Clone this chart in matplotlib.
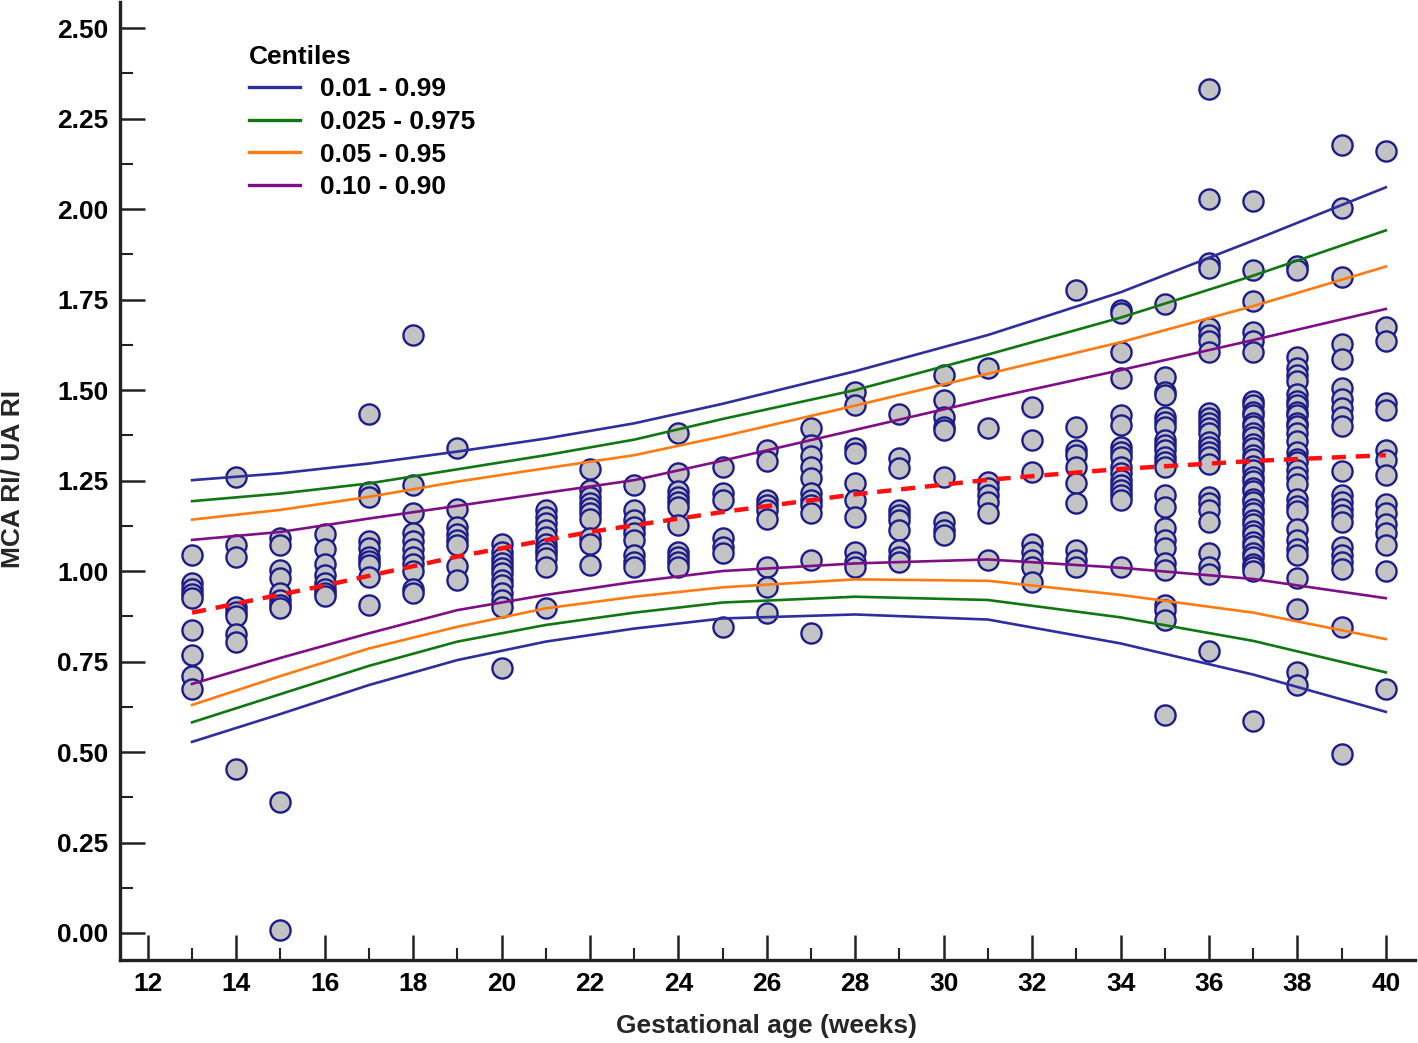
import matplotlib
matplotlib.use("Agg")
import matplotlib.pyplot as plt
from matplotlib.ticker import MultipleLocator, FormatStrFormatter

plt.rcParams['font.family'] = ['Liberation Sans', 'DejaVu Sans']

# ---------------- data ----------------
weeks = list(range(13, 41))

w13 = [1.044, 0.966, 0.950, 0.936, 0.925, 0.837, 0.768, 0.710, 0.674]
w14 = [1.260, 1.072, 1.040, 0.901, 0.888, 0.877, 0.826, 0.804, 0.453]
w15 = [1.090, 1.072, 1.003, 0.980, 0.938, 0.920, 0.906, 0.897, 0.361, 0.009]
w16 = [1.102, 1.060, 1.020, 0.989, 0.967, 0.951, 0.938, 0.930]
w17 = [1.433, 1.218, 1.204, 1.082, 1.063, 1.038, 1.028, 1.018, 0.984, 0.905]
w18 = [1.653, 1.238, 1.159, 1.105, 1.082, 1.060, 1.038, 1.020, 0.999, 0.949, 0.940]
w19 = [1.339, 1.171, 1.122, 1.102, 1.087, 1.073, 1.014, 0.974]
w20 = [1.076, 1.053, 1.035, 1.021, 1.007, 0.994, 0.975, 0.961, 0.938, 0.920, 0.901, 0.731]
w21 = [1.169, 1.150, 1.132, 1.113, 1.095, 1.076, 1.062, 1.049, 1.035, 1.012, 0.897]
w22 = [1.281, 1.224, 1.205, 1.187, 1.173, 1.159, 1.145, 1.090, 1.076, 1.017]
w23 = [1.238, 1.169, 1.141, 1.122, 1.104, 1.086, 1.044, 1.026, 1.012]
w24 = [1.380, 1.270, 1.220, 1.205, 1.191, 1.178, 1.127, 1.053, 1.040, 1.026, 1.012]
w25 = [1.286, 1.215, 1.196, 1.090, 1.067, 1.049, 0.846]
w26 = [1.334, 1.305, 1.196, 1.182, 1.169, 1.145, 1.012, 0.956, 0.883]
w27 = [1.394, 1.348, 1.317, 1.288, 1.256, 1.215, 1.196, 1.182, 1.159, 1.030, 0.830]
w28 = [1.495, 1.459, 1.339, 1.325, 1.242, 1.196, 1.150, 1.053, 1.026, 1.012]
w29 = [1.435, 1.311, 1.284, 1.169, 1.155, 1.141, 1.113, 1.058, 1.040, 1.026]
w30 = [1.541, 1.472, 1.426, 1.399, 1.389, 1.261, 1.136, 1.113, 1.099]
w31 = [1.560, 1.394, 1.247, 1.228, 1.210, 1.191, 1.159, 1.030]
w32 = [1.454, 1.362, 1.274, 1.076, 1.053, 1.030, 1.012, 0.970]
w33 = [1.776, 1.399, 1.334, 1.320, 1.288, 1.242, 1.187, 1.058, 1.030, 1.012]
w34 = [1.721, 1.712, 1.606, 1.532, 1.431, 1.403, 1.343, 1.330, 1.316, 1.288, 1.270,
       1.251, 1.238, 1.224, 1.210, 1.196, 1.012]
w35 = [1.739, 1.537, 1.495, 1.486, 1.426, 1.412, 1.399, 1.362, 1.348, 1.334, 1.316,
       1.302, 1.288, 1.210, 1.178, 1.118, 1.086, 1.063, 1.021, 1.003, 0.906, 0.892,
       0.865, 0.602]
w36 = [2.331, 2.029, 1.851, 1.838, 1.672, 1.653, 1.635, 1.604, 1.437, 1.422, 1.408,
       1.394, 1.380, 1.357, 1.343, 1.330, 1.314, 1.297, 1.205, 1.187, 1.168, 1.136,
       1.049, 1.012, 0.993, 0.778]
w37 = [2.023, 1.832, 1.746, 1.659, 1.635, 1.604, 1.47, 1.46, 1.44, 1.43, 1.41, 1.40,
       1.38, 1.37, 1.35, 1.34, 1.32, 1.31, 1.29, 1.28, 1.26, 1.25, 1.23, 1.22, 1.20,
       1.19, 1.17, 1.16, 1.14, 1.13, 1.11, 1.10, 1.08, 1.07, 1.05, 1.04, 1.02, 1.01,
       1.00, 0.586]
w38 = [1.844, 1.832, 1.591, 1.561, 1.542, 1.524, 1.49, 1.47, 1.46, 1.44, 1.43, 1.41,
       1.40, 1.38, 1.36, 1.33, 1.31, 1.30, 1.28, 1.26, 1.24, 1.20, 1.18, 1.166, 1.117,
       1.086, 1.061, 1.043, 0.981, 0.895, 0.722, 0.685]
w39 = [2.177, 2.004, 1.813, 1.628, 1.585, 1.505, 1.474, 1.450, 1.425, 1.400, 1.277,
       1.209, 1.190, 1.172, 1.154, 1.135, 1.067, 1.043, 1.024, 1.006, 0.845, 0.494]
w40 = [2.159, 1.674, 1.635, 1.464, 1.444, 1.333, 1.308, 1.265, 1.185, 1.160, 1.129,
       1.104, 1.073, 0.999, 0.673]

ratios = [w13, w14, w15, w16, w17, w18, w19, w20, w21, w22, w23, w24, w25, w26,
          w27, w28, w29, w30, w31, w32, w33, w34, w35, w36, w37, w38, w39, w40]

# median curve, read at these gestational ages
median_weeks = [13, 16, 19, 22, 25, 28, 31, 34, 37, 40]
median = [0.885, 0.960, 1.040, 1.108, 1.163, 1.212, 1.252, 1.282, 1.304, 1.320]

# centile curves, read at these gestational ages
curve_weeks = [13, 15, 17, 19, 21, 23, 25, 28, 31, 34, 37, 40]
c01_99_hi = [1.251, 1.270, 1.297, 1.330, 1.366, 1.408, 1.462, 1.552, 1.652, 1.770, 1.913, 2.060]
c01_99_lo = [0.528, 0.605, 0.685, 0.754, 0.805, 0.841, 0.869, 0.880, 0.866, 0.800, 0.714, 0.611]
c025_975_hi = [1.193, 1.214, 1.242, 1.281, 1.320, 1.363, 1.420, 1.500, 1.598, 1.700, 1.816, 1.941]
c025_975_lo = [0.582, 0.660, 0.738, 0.805, 0.851, 0.885, 0.913, 0.929, 0.920, 0.872, 0.807, 0.720]
c05_95_hi = [1.142, 1.169, 1.205, 1.247, 1.284, 1.320, 1.372, 1.457, 1.545, 1.632, 1.732, 1.841]
c05_95_lo = [0.630, 0.710, 0.786, 0.846, 0.897, 0.929, 0.955, 0.977, 0.973, 0.934, 0.885, 0.812]
c10_90_hi = [1.086, 1.108, 1.145, 1.180, 1.216, 1.251, 1.305, 1.390, 1.475, 1.555, 1.638, 1.724]
c10_90_lo = [0.688, 0.760, 0.828, 0.892, 0.934, 0.970, 1.000, 1.021, 1.032, 1.009, 0.978, 0.925]

centile_labels = ['0.01 - 0.99', '0.025 - 0.975', '0.05 - 0.95', '0.10 - 0.90']
centile_colors = ['#2e2e9e', '#117711', '#ff7a10', '#7f0f86']

x_ticks = list(range(12, 41, 2))
y_ticks = [0.0, 0.25, 0.5, 0.75, 1.0, 1.25, 1.5, 1.75, 2.0, 2.25, 2.5]

# ---------------- figure ----------------
W, H = 1418, 1043
fig = plt.figure(figsize=(W / 100, H / 100), dpi=100)
ax = fig.add_axes([120 / W, 83 / H, (1415 - 120) / W, (960 - 2) / H])

px, py = [], []
for wk, vals in zip(weeks, ratios):
    px += [wk] * len(vals)
    py += vals
ax.plot(px, py, linestyle='none', marker='o', markersize=14.5,
        markerfacecolor='#c3c3c3', markeredgecolor='#1c1c8a', markeredgewidth=1.7,
        zorder=2)

pairs = [(c01_99_hi, c01_99_lo), (c025_975_hi, c025_975_lo),
         (c05_95_hi, c05_95_lo), (c10_90_hi, c10_90_lo)]
for (hi, lo), col, lab in zip(pairs, centile_colors, centile_labels):
    ax.plot(curve_weeks, hi, color=col, lw=1.9, label=lab, zorder=3)
    ax.plot(curve_weeks, lo, color=col, lw=1.9, zorder=3)

ax.plot(median_weeks, median, color='#ff1010', lw=3.2, linestyle=(0, (3.2, 2.2)),
        zorder=4)

ax.set_xlim(11.37, 40.66)
ax.set_ylim(-0.0746, 2.572)

for s in ['top', 'right']:
    ax.spines[s].set_visible(False)
for s in ['left', 'bottom']:
    ax.spines[s].set_linewidth(2.4)
    ax.spines[s].set_color('#222222')

ax.set_xticks(x_ticks)
ax.xaxis.set_minor_locator(MultipleLocator(1))
ax.set_yticks(y_ticks)
ax.yaxis.set_major_formatter(FormatStrFormatter('%.2f'))
ax.yaxis.set_minor_locator(MultipleLocator(0.125))

ax.tick_params(axis='both', which='major', direction='in', length=18, width=1.8,
               color='#222222', labelsize=19, pad=8.5)
ax.tick_params(axis='both', which='minor', direction='in', length=9, width=1.5,
               color='#222222')
for lab in ax.get_xticklabels() + ax.get_yticklabels():
    lab.set_fontweight('bold')

fig.text(766 / W, 1 - 1026 / H, 'Gestational age (weeks)', ha='center', va='center',
         fontsize=19, fontweight='bold', color='#262626')
fig.text(13 / W, 1 - 479 / H, 'MCA RI/ UA RI', ha='center', va='center',
         rotation=90, fontsize=19, fontweight='bold', color='#262626')

leg = ax.legend(loc='upper left', bbox_to_anchor=(238 / W, 1 - 34 / H),
                bbox_transform=fig.transFigure, frameon=False,
                prop={'weight': 'bold', 'size': 19},
                title='Centiles', title_fontproperties={'weight': 'bold', 'size': 19},
                alignment='left', handlelength=1.95, handletextpad=0.75,
                labelspacing=0.33, borderaxespad=0)
for h in leg.get_lines():
    h.set_linewidth(2.4)

fig.savefig('out.png', dpi=100)
